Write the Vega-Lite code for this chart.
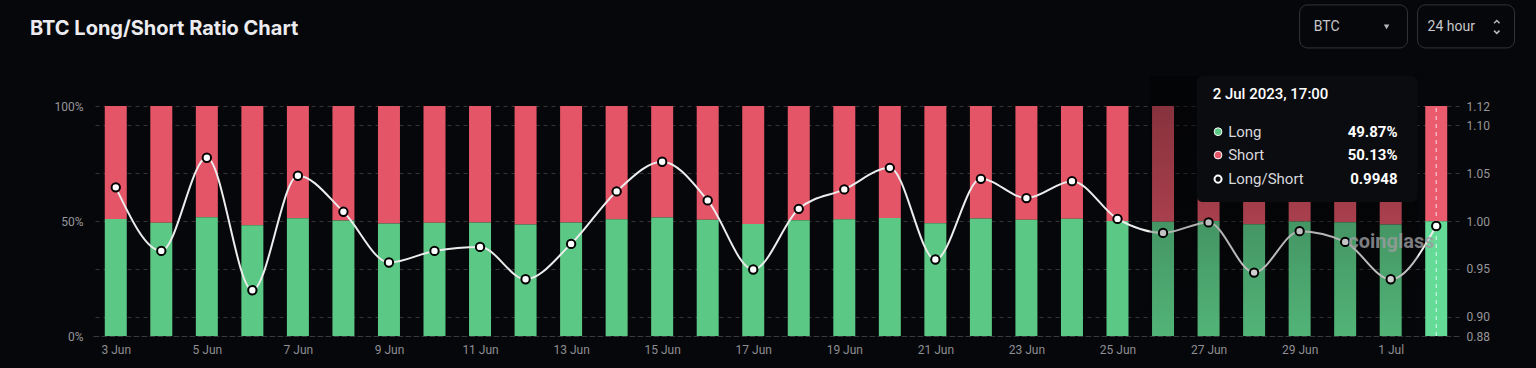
{
"$schema": "https://vega.github.io/schema/vega-lite/v6.json",
"width": 1366,
"height": 230,
"autosize": "none",
"padding": {"left": 93, "top": 106, "right": 77, "bottom": 32},
"background": "#06070a",
"config": {"view": {"stroke": null}, "font": "Roboto", "axis": {"labelFont": "Roboto", "titleFont": "Roboto"}},
"title": {"text": "BTC Long/Short Ratio Chart", "anchor": "start", "frame": "group", "dx": -63, "offset": -51, "baseline": "alphabetic", "font": "Inter", "fontSize": 20, "fontWeight": "bold", "color": "#ececf0"},
"data": {"values": [
{"date": "2023-06-03", "long": 0.5086, "short": 0.4914, "ratio": 1.0351},
{"date": "2023-06-04", "long": 0.4921, "short": 0.5079, "ratio": 0.9688},
{"date": "2023-06-05", "long": 0.5160, "short": 0.4840, "ratio": 1.0660},
{"date": "2023-06-06", "long": 0.4812, "short": 0.5188, "ratio": 0.9277},
{"date": "2023-06-07", "long": 0.5115, "short": 0.4885, "ratio": 1.0472},
{"date": "2023-06-08", "long": 0.5024, "short": 0.4976, "ratio": 1.0096},
{"date": "2023-06-09", "long": 0.4889, "short": 0.5111, "ratio": 0.9567},
{"date": "2023-06-10", "long": 0.4921, "short": 0.5079, "ratio": 0.9688},
{"date": "2023-06-11", "long": 0.4932, "short": 0.5068, "ratio": 0.9730},
{"date": "2023-06-12", "long": 0.4843, "short": 0.5157, "ratio": 0.9392},
{"date": "2023-06-13", "long": 0.4940, "short": 0.5060, "ratio": 0.9761},
{"date": "2023-06-14", "long": 0.5076, "short": 0.4924, "ratio": 1.0309},
{"date": "2023-06-15", "long": 0.5150, "short": 0.4850, "ratio": 1.0618},
{"date": "2023-06-16", "long": 0.5053, "short": 0.4947, "ratio": 1.0215},
{"date": "2023-06-17", "long": 0.4870, "short": 0.5130, "ratio": 0.9494},
{"date": "2023-06-18", "long": 0.5032, "short": 0.4968, "ratio": 1.0127},
{"date": "2023-06-19", "long": 0.5081, "short": 0.4919, "ratio": 1.0330},
{"date": "2023-06-20", "long": 0.5135, "short": 0.4865, "ratio": 1.0555},
{"date": "2023-06-21", "long": 0.4897, "short": 0.5103, "ratio": 0.9598},
{"date": "2023-06-22", "long": 0.5108, "short": 0.4892, "ratio": 1.0440},
{"date": "2023-06-23", "long": 0.5059, "short": 0.4941, "ratio": 1.0239},
{"date": "2023-06-24", "long": 0.5102, "short": 0.4898, "ratio": 1.0416},
{"date": "2023-06-25", "long": 0.5005, "short": 0.4995, "ratio": 1.0022},
{"date": "2023-06-26", "long": 0.4969, "short": 0.5031, "ratio": 0.9876},
{"date": "2023-06-27", "long": 0.4996, "short": 0.5004, "ratio": 0.9985},
{"date": "2023-06-28", "long": 0.4862, "short": 0.5138, "ratio": 0.9462},
{"date": "2023-06-29", "long": 0.4973, "short": 0.5027, "ratio": 0.9894},
{"date": "2023-06-30", "long": 0.4945, "short": 0.5055, "ratio": 0.9782},
{"date": "2023-07-01", "long": 0.4843, "short": 0.5157, "ratio": 0.9392},
{"date": "2023-07-02", "long": 0.4987, "short": 0.5013, "ratio": 0.9948}
]},
"encoding": {
  "x": {"field": "date", "type": "temporal",
    "scale": {"type": "utc", "padding": 0, "domain": [{"year": 2023, "month": 6, "date": 2, "hours": 12, "utc": true}, {"year": 2023, "month": 7, "date": 2, "hours": 12, "utc": true}]},
    "axis": {"title": null, "format": "%-d %b", "labelColor": "#8e8e93", "labelFontSize": 12, "labelPadding": 8, "labelFlush": false, "labelOverlap": false,
      "domainColor": "#3a3a40", "domainDash": [4, 4], "ticks": false, "grid": false,
      "values": [
        {"year": 2023, "month": 6, "date": 3, "utc": true}, {"year": 2023, "month": 6, "date": 5, "utc": true},
        {"year": 2023, "month": 6, "date": 7, "utc": true}, {"year": 2023, "month": 6, "date": 9, "utc": true},
        {"year": 2023, "month": 6, "date": 11, "utc": true}, {"year": 2023, "month": 6, "date": 13, "utc": true},
        {"year": 2023, "month": 6, "date": 15, "utc": true}, {"year": 2023, "month": 6, "date": 17, "utc": true},
        {"year": 2023, "month": 6, "date": 19, "utc": true}, {"year": 2023, "month": 6, "date": 21, "utc": true},
        {"year": 2023, "month": 6, "date": 23, "utc": true}, {"year": 2023, "month": 6, "date": 25, "utc": true},
        {"year": 2023, "month": 6, "date": 27, "utc": true}, {"year": 2023, "month": 6, "date": 29, "utc": true},
        {"year": 2023, "month": 7, "date": 1, "utc": true}]}}
},
"layer": [
  {
    "encoding": {
      "y": {"field": "long", "type": "quantitative", "scale": {"domain": [0, 1], "nice": false},
        "axis": {"orient": "left", "title": null, "values": [0, 0.5, 1], "format": ".0%", "domain": false, "ticks": false, "grid": false, "labelColor": "#96969b", "labelFontSize": 12, "labelPadding": 10}}
    },
    "layer": [
      {"mark": {"type": "bar", "size": 22},
       "encoding": {"y2": {"datum": 1},
         "color": {"condition": {"test": "time(datum.date) == utc(2023,6,2)", "value": "#ea5b6d"}, "value": "#e35567"}}},
      {"mark": {"type": "bar", "size": 22},
       "encoding": {"color": {"condition": {"test": "time(datum.date) == utc(2023,6,2)", "value": "#64dc97"}, "value": "#5bc885"}}},
      {"transform": [{"filter": "time(datum.date) == utc(2023,6,2)"}],
       "mark": {"type": "rule", "color": "#ffffff", "strokeDash": [4, 4], "strokeWidth": 1, "opacity": 0.8},
       "encoding": {"y": {"datum": 0}, "y2": {"datum": 1}}}
    ]
  },
  {
    "encoding": {
      "y": {"field": "ratio", "type": "quantitative", "scale": {"domain": [0.88, 1.12], "nice": false, "zero": false},
        "axis": {"orient": "right", "title": null, "values": [0.88, 0.9, 0.95, 1.0, 1.05, 1.1, 1.12], "format": ".2f", "domain": false, "ticks": false,
          "grid": true, "gridColor": "#34343a", "gridDash": [4, 4], "labelColor": "#96969b", "labelFontSize": 12, "labelPadding": 7}}
    },
    "layer": [
      {"mark": {"type": "line", "interpolate": "monotone", "color": "#ececec", "strokeWidth": 2}},
      {"mark": {"type": "point", "filled": true, "fill": "#ffffff", "stroke": "#000000", "strokeWidth": 2, "size": 70, "opacity": 1}},
      {
        "transform": [{"filter": "time(datum.date) == utc(2023,6,2)"}],
        "layer": [
          {"mark": {"type": "rect", "fill": {"gradient": "linear", "x1": 0, "y1": 0, "x2": 0, "y2": 1, "stops": [{"offset": 0, "color": "rgba(0,0,0,0.45)"}, {"offset": 1, "color": "rgba(0,0,0,0.1)"}]}},
           "encoding": {"x": {"datum": {"year": 2023, "month": 6, "date": 25, "hours": 17, "utc": true}}, "x2": {"datum": {"year": 2023, "month": 7, "date": 1, "hours": 14, "minutes": 10, "utc": true}},
             "y": {"datum": 1.1513}, "y2": {"datum": 0.88}}},
          {"mark": {"type": "text", "text": "coinglass", "font": "Roboto", "fontSize": 20, "fontWeight": "bold", "color": "#9c9ca0", "opacity": 0.8, "align": "left", "baseline": "middle"},
           "encoding": {"x": {"datum": {"year": 2023, "month": 6, "date": 30, "hours": 1, "minutes": 40, "utc": true}}, "y": {"datum": 0.978}}},
          {"mark": {"type": "rect", "fill": "#0b0c10", "cornerRadius": 6},
           "encoding": {"x": {"datum": {"year": 2023, "month": 6, "date": 26, "hours": 17, "minutes": 45, "utc": true}}, "x2": {"datum": {"year": 2023, "month": 7, "date": 1, "hours": 14, "minutes": 10, "utc": true}},
             "y": {"datum": 1.1513}, "y2": {"datum": 1.0197}}},
          {"mark": {"type": "text", "text": "2 Jul 2023, 17:00", "fontSize": 15, "fontWeight": 500, "color": "#ffffff", "align": "left", "baseline": "middle"},
           "encoding": {"x": {"datum": {"year": 2023, "month": 6, "date": 27, "hours": 2, "minutes": 10, "utc": true}}, "y": {"datum": 1.1325}}},
          {"mark": {"type": "point", "filled": true, "fill": "#5bc885", "stroke": "#ffffff", "strokeWidth": 1, "size": 60, "opacity": 1},
           "encoding": {"x": {"datum": {"year": 2023, "month": 6, "date": 27, "hours": 5, "utc": true}}, "y": {"datum": 1.0932}}},
          {"mark": {"type": "point", "filled": true, "fill": "#e35567", "stroke": "#ffffff", "strokeWidth": 1, "size": 60, "opacity": 1},
           "encoding": {"x": {"datum": {"year": 2023, "month": 6, "date": 27, "hours": 5, "utc": true}}, "y": {"datum": 1.0688}}},
          {"mark": {"type": "point", "filled": true, "fill": "#0b0c10", "stroke": "#ffffff", "strokeWidth": 2, "size": 50, "opacity": 1},
           "encoding": {"x": {"datum": {"year": 2023, "month": 6, "date": 27, "hours": 5, "utc": true}}, "y": {"datum": 1.0437}}},
          {"mark": {"type": "text", "text": "Long", "fontSize": 15, "color": "#d8d8dc", "align": "left", "baseline": "middle"},
           "encoding": {"x": {"datum": {"year": 2023, "month": 6, "date": 27, "hours": 10, "minutes": 20, "utc": true}}, "y": {"datum": 1.0932}}},
          {"mark": {"type": "text", "text": "Short", "fontSize": 15, "color": "#d8d8dc", "align": "left", "baseline": "middle"},
           "encoding": {"x": {"datum": {"year": 2023, "month": 6, "date": 27, "hours": 10, "minutes": 20, "utc": true}}, "y": {"datum": 1.0688}}},
          {"mark": {"type": "text", "text": "Long/Short", "fontSize": 15, "color": "#d8d8dc", "align": "left", "baseline": "middle"},
           "encoding": {"x": {"datum": {"year": 2023, "month": 6, "date": 27, "hours": 10, "minutes": 20, "utc": true}}, "y": {"datum": 1.0437}}},
          {"mark": {"type": "text", "fontSize": 15, "fontWeight": "bold", "color": "#ffffff", "align": "right", "baseline": "middle"},
           "encoding": {"text": {"field": "long", "type": "quantitative", "format": ".2%"}, "x": {"datum": {"year": 2023, "month": 7, "date": 1, "hours": 3, "minutes": 36, "utc": true}}, "y": {"datum": 1.0932}}},
          {"mark": {"type": "text", "fontSize": 15, "fontWeight": "bold", "color": "#ffffff", "align": "right", "baseline": "middle"},
           "encoding": {"text": {"field": "short", "type": "quantitative", "format": ".2%"}, "x": {"datum": {"year": 2023, "month": 7, "date": 1, "hours": 3, "minutes": 36, "utc": true}}, "y": {"datum": 1.0688}}},
          {"mark": {"type": "text", "fontSize": 15, "fontWeight": "bold", "color": "#ffffff", "align": "right", "baseline": "middle"},
           "encoding": {"text": {"field": "ratio", "type": "quantitative", "format": ".4f"}, "x": {"datum": {"year": 2023, "month": 7, "date": 1, "hours": 3, "minutes": 36, "utc": true}}, "y": {"datum": 1.0437}}},
          {"mark": {"type": "rect", "fill": "#06070a", "stroke": "#34343a", "strokeWidth": 1, "cornerRadius": 8},
           "encoding": {"x": {"datum": {"year": 2023, "month": 6, "date": 29, "utc": true}}, "x2": {"datum": {"year": 2023, "month": 7, "date": 1, "hours": 8, "minutes": 53, "utc": true}},
             "y": {"datum": 1.2255}, "y2": {"datum": 1.1806}}},
          {"mark": {"type": "rect", "fill": "#06070a", "stroke": "#34343a", "strokeWidth": 1, "cornerRadius": 8},
           "encoding": {"x": {"datum": {"year": 2023, "month": 7, "date": 1, "hours": 14, "minutes": 10, "utc": true}}, "x2": {"datum": {"year": 2023, "month": 7, "date": 3, "hours": 17, "minutes": 17, "utc": true}},
             "y": {"datum": 1.2255}, "y2": {"datum": 1.1806}}},
          {"mark": {"type": "text", "text": "BTC", "fontSize": 14, "color": "#c8c8cc", "align": "left", "baseline": "middle"},
           "encoding": {"x": {"datum": {"year": 2023, "month": 6, "date": 29, "hours": 7, "minutes": 26, "utc": true}}, "y": {"datum": 1.2026}}},
          {"mark": {"type": "point", "shape": "triangle-down", "filled": true, "color": "#b8b8bc", "size": 30, "opacity": 1},
           "encoding": {"x": {"datum": {"year": 2023, "month": 6, "date": 30, "hours": 21, "minutes": 50, "utc": true}}, "y": {"datum": 1.2026}}},
          {"mark": {"type": "text", "text": "24 hour", "fontSize": 14, "color": "#c8c8cc", "align": "left", "baseline": "middle"},
           "encoding": {"x": {"datum": {"year": 2023, "month": 7, "date": 1, "hours": 19, "minutes": 25, "utc": true}}, "y": {"datum": 1.2026}}},
          {"mark": {"type": "point", "shape": "M-1,0.5L0,-0.5L1,0.5", "filled": false, "stroke": "#b8b8bc", "strokeWidth": 1.5, "size": 30, "opacity": 1},
           "encoding": {"x": {"datum": {"year": 2023, "month": 7, "date": 3, "hours": 7, "minutes": 55, "utc": true}}, "y": {"datum": 1.2077}}},
          {"mark": {"type": "point", "shape": "M-1,-0.5L0,0.5L1,-0.5", "filled": false, "stroke": "#b8b8bc", "strokeWidth": 1.5, "size": 30, "opacity": 1},
           "encoding": {"x": {"datum": {"year": 2023, "month": 7, "date": 3, "hours": 7, "minutes": 55, "utc": true}}, "y": {"datum": 1.1972}}}
        ]
      }
    ]
  }
],
"resolve": {"scale": {"y": "independent"}}
}
